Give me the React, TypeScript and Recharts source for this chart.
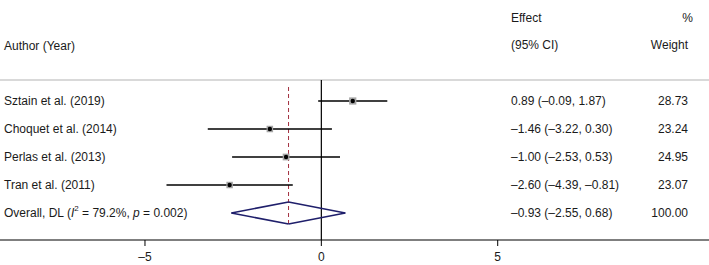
import React from "react";
import {
  ComposedChart,
  XAxis,
  YAxis,
  Scatter,
  ReferenceLine,
  Customized,
} from "recharts";

const authors = [
  "Sztain et al. (2019)",
  "Choquet et al. (2014)",
  "Perlas et al. (2013)",
  "Tran et al. (2011)",
];
const effects = [0.89, -1.46, -1.0, -2.6];
const lowers = [-0.09, -3.22, -2.53, -4.39];
const uppers = [1.87, 0.3, 0.53, -0.81];
const weights = [28.73, 23.24, 24.95, 23.07];

const overallEffect = -0.93;
const overallLower = -2.55;
const overallUpper = 0.68;
const overallWeight = 100.0;
const overallI2 = "79.2%";
const overallP = "0.002";

const xTicks = [-5, 0, 5];

const W = 709;
const H = 265;
const FONT = "'Liberation Sans', Arial, sans-serif";
const TXT = "#1a1a1a";

const fmt = (v: number) => (v < 0 ? "\u2013" : "") + Math.abs(v).toFixed(2);

const studyRows = authors.map((a, i) => ({
  x: effects[i],
  y: i,
  author: a,
  ci: `${fmt(effects[i])} (${fmt(lowers[i])}, ${fmt(uppers[i])})`,
  weight: weights[i].toFixed(2),
  w: weights[i],
}));

const overallRow = [
  {
    x: overallEffect,
    y: authors.length,
    ci: `${fmt(overallEffect)} (${fmt(overallLower)}, ${fmt(overallUpper)})`,
    weight: overallWeight.toFixed(2),
  },
];

const COL_AUTHOR = 4;
const COL_EFFECT = 511;
const COL_WEIGHT = 688;

const StudyShape = (props: any) => {
  const { cx, cy, payload } = props;
  const side = Math.sqrt(payload.w) * 1.35;
  return (
    <g>
      <rect
        x={cx - side / 2}
        y={cy - side / 2}
        width={side}
        height={side}
        fill="#a6a6a6"
      />
      <circle cx={cx} cy={cy} r={2.2} fill="#000" />
      <text x={COL_AUTHOR} y={cy} dominantBaseline="central" fontSize={12} fill={TXT}>
        {payload.author}
      </text>
      <text x={COL_EFFECT} y={cy} dominantBaseline="central" fontSize={12} fill={TXT}>
        {payload.ci}
      </text>
      <text
        x={COL_WEIGHT}
        y={cy}
        dominantBaseline="central"
        textAnchor="end"
        fontSize={12}
        fill={TXT}
      >
        {payload.weight}
      </text>
    </g>
  );
};

const OverallShape = (props: any) => {
  const { cy, payload } = props;
  return (
    <g>
      <text x={COL_AUTHOR} y={cy} dominantBaseline="central" fontSize={12} fill={TXT}>
        Overall, DL (<tspan fontStyle="italic">I</tspan>
        <tspan fontSize={8} dy={-5}>2</tspan>
        <tspan dy={5}>{` = ${overallI2}, `}</tspan>
        <tspan fontStyle="italic">p</tspan>
        {` = ${overallP})`}
      </text>
      <text x={COL_EFFECT} y={cy} dominantBaseline="central" fontSize={12} fill={TXT}>
        {payload.ci}
      </text>
      <text
        x={COL_WEIGHT}
        y={cy}
        dominantBaseline="central"
        textAnchor="end"
        fontSize={12}
        fill={TXT}
      >
        {payload.weight}
      </text>
    </g>
  );
};

const Header = () => (
  <g fontSize={12} fill={TXT}>
    <text x={COL_AUTHOR} y={46} dominantBaseline="central">
      Author (Year)
    </text>
    <text x={COL_EFFECT} y={18} dominantBaseline="central">
      Effect
    </text>
    <text x={COL_EFFECT} y={45} dominantBaseline="central">
      (95% CI)
    </text>
    <text x={693} y={18} dominantBaseline="central" textAnchor="end">
      %
    </text>
    <text x={COL_WEIGHT} y={45} dominantBaseline="central" textAnchor="end">
      Weight
    </text>
  </g>
);

const DIAMOND_HALF = 0.39;
const ovY = authors.length;

export default function App() {
  return (
    <div style={{ position: "absolute", left: 0, top: 0, background: "#fff" }}>
      <ComposedChart
        width={W}
        height={H}
        margin={{ top: 80, right: 0, bottom: 0, left: 0 }}
        style={{ fontFamily: FONT }}
      >
        <XAxis
          type="number"
          dataKey="x"
          domain={[-9.11, 10.99]}
          allowDataOverflow
          ticks={xTicks}
          tickFormatter={(v: number) => (v < 0 ? "\u2013" + Math.abs(v) : String(v))}
          height={25}
          tickSize={6}
          tickMargin={6}
          axisLine={{ stroke: "#000", strokeWidth: 1.2 }}
          tickLine={{ stroke: "#000" }}
          tick={{ fontSize: 12, fill: TXT }}
        />
        <YAxis
          type="number"
          dataKey="y"
          hide
          reversed
          allowDataOverflow
          domain={[-0.75, 4.964]}
        />
        <ReferenceLine y={-0.75} stroke="#b3b3b3" strokeWidth={1.2} />
        <ReferenceLine x={0} stroke="#000" strokeWidth={1.2} />
        <ReferenceLine
          segment={[
            { x: overallEffect, y: -0.5 },
            { x: overallEffect, y: 4.43 },
          ]}
          stroke="#a3303f"
          strokeDasharray="4 3"
          strokeWidth={1}
        />
        {studyRows.map((r) => (
          <ReferenceLine
            key={r.author}
            segment={[
              { x: lowers[r.y], y: r.y },
              { x: uppers[r.y], y: r.y },
            ]}
            stroke="#000"
            strokeWidth={1.6}
          />
        ))}
        <ReferenceLine
          segment={[
            { x: overallLower, y: ovY },
            { x: overallEffect, y: ovY - DIAMOND_HALF },
          ]}
          stroke="#1f1f6b"
          strokeWidth={1.6}
        />
        <ReferenceLine
          segment={[
            { x: overallEffect, y: ovY - DIAMOND_HALF },
            { x: overallUpper, y: ovY },
          ]}
          stroke="#1f1f6b"
          strokeWidth={1.6}
        />
        <ReferenceLine
          segment={[
            { x: overallUpper, y: ovY },
            { x: overallEffect, y: ovY + DIAMOND_HALF },
          ]}
          stroke="#1f1f6b"
          strokeWidth={1.6}
        />
        <ReferenceLine
          segment={[
            { x: overallEffect, y: ovY + DIAMOND_HALF },
            { x: overallLower, y: ovY },
          ]}
          stroke="#1f1f6b"
          strokeWidth={1.6}
        />
        <Scatter data={studyRows} shape={StudyShape} isAnimationActive={false} />
        <Scatter data={overallRow} shape={OverallShape} isAnimationActive={false} />
        <Customized component={Header} />
      </ComposedChart>
    </div>
  );
}
